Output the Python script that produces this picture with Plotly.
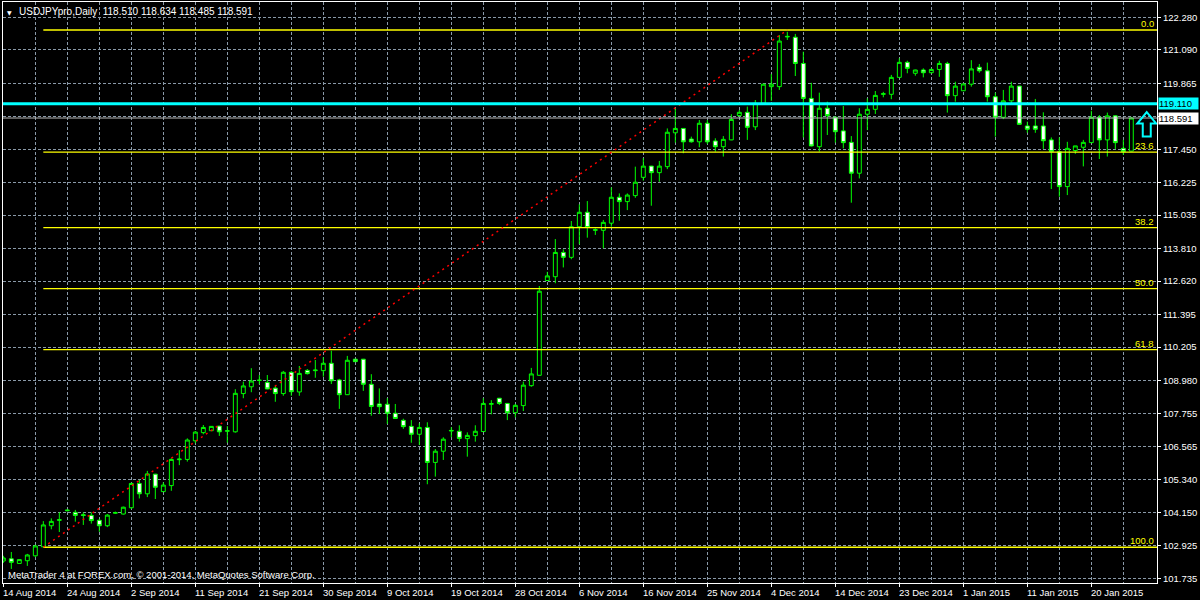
import pandas as pd
import plotly.graph_objects as go

# ---------------- data ----------------
SYMBOL_TITLE = "USDJPYpro,Daily"
LAST_OHLC = ["118.510", "118.634", "118.485", "118.591"]
COPYRIGHT = "MetaTrader 4 at FOREX.com, © 2001-2014, MetaQuotes Software Corp."

FIRST_DATE = "2014-08-14"
LAST_DATE = "2015-01-26"

OPEN = [
    102.37, 102.45, 102.28, 102.38, 102.56, 102.89, 103.66, 103.86, 104.21, 104.15,
    104.06, 104.04, 103.86, 103.66, 104.12, 104.09, 104.32, 105.21, 104.83, 105.55,
    104.91, 105.13, 106.08, 106.09, 106.77, 107.07, 107.14, 107.31, 107.12, 107.10,
    108.50, 108.75, 108.98, 108.91, 108.70, 108.50, 109.28, 108.56, 109.35, 109.34,
    109.34, 109.61, 109.00, 108.46, 109.76, 109.76, 108.84, 108.12, 108.11, 107.78,
    107.52, 107.30, 107.01, 107.26, 105.98, 106.39, 107.13, 107.12, 106.85, 106.96,
    107.11, 108.11, 108.33, 108.14, 107.80, 108.06, 108.79, 109.17, 112.64, 112.78,
    113.67, 113.49, 114.61, 115.14, 114.48, 114.48, 114.74, 115.69, 115.53, 115.75,
    116.42, 116.83, 116.59, 116.81, 118.05, 118.21, 117.82, 117.72, 118.40, 117.75,
    117.54, 117.79, 118.68, 118.80, 118.27, 119.13, 119.74, 119.74, 121.56, 121.55,
    120.59, 119.31, 117.54, 118.95, 118.62, 118.12, 117.70, 116.57, 118.73, 118.91,
    119.46, 119.46, 120.08, 120.63, 120.23, 120.35, 120.25, 120.37, 120.59, 119.41,
    119.59, 119.83, 120.45, 120.32, 119.37, 118.62, 119.22, 119.76, 118.30, 118.30,
    118.30, 117.79, 117.36, 116.08, 117.40, 117.52, 117.69, 118.62, 117.79, 118.67,
    117.48, 117.38,
]
HIGH = [
    102.56, 102.70, 102.43, 102.63, 102.96, 103.83, 103.93, 104.15, 104.25, 104.24,
    104.15, 104.15, 103.91, 104.09, 104.18, 104.36, 105.24, 105.34, 105.67, 105.56,
    105.25, 106.13, 106.43, 106.86, 107.13, 107.35, 107.31, 107.32, 107.31, 108.66,
    108.94, 109.43, 109.18, 109.18, 108.79, 109.33, 109.33, 109.51, 109.40, 109.73,
    109.83, 110.07, 109.04, 109.88, 109.77, 109.77, 109.21, 108.69, 108.33, 108.12,
    107.58, 107.53, 107.41, 107.45, 106.47, 106.90, 107.27, 107.34, 107.08, 107.34,
    108.33, 108.26, 108.34, 108.15, 108.12, 108.94, 109.44, 112.44, 112.96, 114.16,
    113.78, 114.82, 115.43, 115.55, 114.55, 114.86, 116.05, 115.83, 115.83, 116.81,
    117.12, 116.84, 117.02, 118.21, 118.95, 118.22, 117.91, 118.52, 118.52, 117.85,
    117.93, 118.73, 118.88, 119.01, 119.25, 119.84, 120.20, 121.63, 121.75, 121.67,
    121.02, 119.88, 119.52, 119.19, 118.64, 119.03, 117.93, 118.95, 119.31, 119.58,
    119.55, 120.17, 120.78, 120.69, 120.36, 120.41, 120.41, 120.69, 120.65, 119.92,
    119.85, 120.71, 120.57, 120.62, 119.52, 119.62, 119.92, 119.77, 118.46, 119.29,
    118.80, 117.88, 117.88, 117.72, 117.57, 117.79, 118.86, 118.70, 118.79, 118.70,
    117.79, 118.634,
]
LOW = [
    102.30, 102.08, 102.27, 102.19, 102.51, 102.87, 103.53, 103.43, 104.19, 103.81,
    103.69, 103.74, 103.44, 103.61, 104.09, 104.07, 104.28, 104.66, 104.71, 104.64,
    104.90, 104.94, 105.88, 106.01, 106.68, 107.01, 107.13, 106.95, 106.70, 107.07,
    108.33, 108.55, 108.84, 108.66, 108.20, 108.42, 108.42, 108.42, 109.20, 109.08,
    109.12, 108.85, 107.94, 108.45, 109.66, 108.60, 107.69, 107.75, 107.39, 107.57,
    107.21, 106.70, 106.62, 105.18, 105.46, 106.07, 106.90, 106.74, 106.19, 106.74,
    107.10, 107.74, 108.08, 107.53, 107.63, 107.86, 108.75, 109.16, 112.63, 112.54,
    113.12, 113.42, 113.97, 114.21, 114.31, 113.82, 114.61, 114.83, 115.22, 115.67,
    116.30, 115.38, 116.26, 116.72, 117.69, 117.30, 117.69, 117.52, 117.64, 117.36,
    117.18, 117.78, 118.64, 117.79, 118.15, 119.12, 119.22, 119.62, 121.45, 120.13,
    117.88, 117.55, 117.36, 117.97, 117.69, 117.48, 115.49, 116.38, 118.15, 118.74,
    119.35, 119.28, 120.07, 120.23, 120.14, 120.08, 120.23, 120.10, 118.79, 119.19,
    119.58, 119.74, 120.25, 119.19, 117.91, 118.55, 119.13, 118.35, 118.05, 118.05,
    117.46, 115.99, 115.71, 115.77, 117.28, 116.82, 117.68, 117.09, 117.18, 117.45,
    117.24, 117.37,
]
CLOSE = [
    102.48, 102.32, 102.42, 102.59, 102.92, 103.69, 103.82, 103.88, 104.23, 104.04,
    104.04, 103.85, 103.66, 104.05, 104.14, 104.34, 105.21, 104.83, 105.56, 105.07,
    105.15, 106.09, 106.10, 106.80, 107.09, 107.26, 107.30, 107.10, 107.14, 108.51,
    108.78, 108.96, 108.99, 108.67, 108.50, 109.28, 108.57, 109.24, 109.23, 109.36,
    109.61, 108.97, 108.46, 109.72, 109.67, 108.84, 108.03, 108.02, 107.78, 107.59,
    107.29, 107.01, 107.26, 105.98, 106.39, 106.83, 107.15, 106.86, 106.97, 107.12,
    108.14, 108.13, 108.14, 107.80, 108.07, 108.81, 109.22, 112.25, 112.81, 113.67,
    113.49, 114.61, 115.14, 114.58, 114.50, 114.77, 115.69, 115.53, 115.77, 116.24,
    116.83, 116.59, 116.83, 118.07, 118.21, 117.72, 117.72, 118.40, 117.72, 117.54,
    117.81, 118.54, 118.80, 118.25, 119.13, 119.83, 119.83, 121.41, 121.58, 120.59,
    119.31, 117.57, 118.95, 118.68, 118.09, 117.69, 116.57, 118.73, 118.91, 119.42,
    119.48, 120.08, 120.63, 120.41, 120.35, 120.25, 120.37, 120.59, 119.41, 119.76,
    119.84, 120.39, 120.32, 119.37, 118.62, 119.22, 119.76, 118.36, 118.18, 118.18,
    117.76, 117.36, 116.08, 117.48, 117.57, 117.70, 118.62, 117.79, 118.67, 117.69,
    117.36, 118.591,
]

TICK_DATES = [
    "2014-08-14", "2014-08-24", "2014-09-02", "2014-09-11", "2014-09-21", "2014-09-30",
    "2014-10-09", "2014-10-19", "2014-10-28", "2014-11-06", "2014-11-16", "2014-11-25",
    "2014-12-04", "2014-12-14", "2014-12-23", "2015-01-01", "2015-01-11", "2015-01-20",
]
PRICE_TICKS = [122.280, 121.090, 119.865, 118.655, 117.450, 116.225, 115.035, 113.810,
               112.620, 111.395, 110.205, 108.980, 107.755, 106.565, 105.340, 104.150,
               102.925, 101.735]
HIDDEN_TICKS = [118.655]

FIB_HIGH = 121.815
FIB_LOW = 102.873
FIB_LEVELS = [0.0, 23.6, 38.2, 50.0, 61.8, 100.0]
FIB_START_DATE = "2014-08-20"
FIB_END_DATE = "2014-12-07"

HLINE_PRICE = 119.110
BID_PRICE = 118.591
ARROW_BAR = 142.93
ARROW_PRICE = 118.81

# ---------------- build ----------------
dates = [d for d in pd.date_range(FIRST_DATE, LAST_DATE, freq="D") if d.weekday() != 5]
n = len(dates)
assert n == len(OPEN) == len(HIGH) == len(LOW) == len(CLOSE)
idx = list(range(n))
d2i = {d.strftime("%Y-%m-%d"): i for i, d in enumerate(dates)}
tick_idx = [d2i[t] for t in TICK_DATES]
minor_idx = [t + 4 for t in tick_idx]

GREEN = "#00FF00"
GRID = "#8A99A8"
FONT = "Liberation Sans, Arial, sans-serif"
FS = 9.5
X_RANGE = [-0.04, 144.21]
Y_RANGE = [101.564, 122.84]

fig = go.Figure(go.Candlestick(
    x=idx, open=OPEN, high=HIGH, low=LOW, close=CLOSE,
    increasing=dict(line=dict(color=GREEN, width=1), fillcolor="#000000"),
    decreasing=dict(line=dict(color=GREEN, width=1), fillcolor="#FFFFFF"),
    hoverinfo="skip", showlegend=False,
))

shapes = []
annotations = []
# fibonacci levels
fx0 = d2i[FIB_START_DATE]
fx1 = d2i[FIB_END_DATE]
for lvl in FIB_LEVELS:
    p = FIB_HIGH - lvl / 100.0 * (FIB_HIGH - FIB_LOW)
    shapes.append(dict(type="line", xref="x", yref="y", x0=fx0, x1=X_RANGE[1], y0=p, y1=p,
                       line=dict(color="#FFFF00", width=1.3), layer="above"))
    annotations.append(dict(xref="paper", yref="y", x=1, y=p, xanchor="right", yanchor="bottom",
                            xshift=-1, yshift=-1, text=f"{lvl:.1f}", showarrow=False,
                            font=dict(color="#FFFF00", size=FS, family=FONT)))
# trend line of fibo
shapes.append(dict(type="line", xref="x", yref="y", x0=fx0, y0=FIB_LOW, x1=fx1, y1=FIB_HIGH,
                   line=dict(color="#FF0000", width=1.5, dash="2px,4px"), layer="above"))
# bid line
shapes.append(dict(type="line", xref="x", yref="y", x0=X_RANGE[0], x1=X_RANGE[1],
                   y0=BID_PRICE, y1=BID_PRICE, line=dict(color="#B8B8B8", width=1), layer="above"))
# cyan horizontal line
shapes.append(dict(type="line", xref="x", yref="y", x0=X_RANGE[0], x1=X_RANGE[1],
                   y0=HLINE_PRICE, y1=HLINE_PRICE, line=dict(color="#00FFFF", width=3), layer="above"))
# up arrow object (pixel-sized, anchored at time/price)
shapes.append(dict(type="path", xref="x", yref="y", xsizemode="pixel", ysizemode="pixel",
                   xanchor=ARROW_BAR, yanchor=ARROW_PRICE,
                   path="M0,0 L9.5,-11.5 L4,-11.5 L4,-24.5 L-4,-24.5 L-4,-11.5 L-9.5,-11.5 Z",
                   line=dict(color="#00FFFF", width=2), fillcolor="rgba(0,0,0,0)", layer="above"))

# date labels (left aligned at tick)
for t, ti in zip(TICK_DATES, tick_idx):
    d = pd.Timestamp(t)
    annotations.append(dict(xref="x", yref="paper", x=ti, y=0, xanchor="left", yanchor="top",
                            xshift=-2, yshift=-2, text=f"{d.day} {d.strftime('%b %Y')}",
                            showarrow=False, font=dict(color="white", size=FS, family=FONT)))

# price boxes
annotations.append(dict(xref="paper", yref="y", x=1, y=HLINE_PRICE, xanchor="left", yanchor="middle",
                        xshift=1, text=f"{HLINE_PRICE:.3f}", showarrow=False, bgcolor="#00FFFF",
                        width=39, align="left", borderpad=0,
                        font=dict(color="black", size=FS, family=FONT)))
annotations.append(dict(xref="paper", yref="y", x=1, y=BID_PRICE, xanchor="left", yanchor="middle",
                        xshift=1, text=f"{BID_PRICE:.3f}", showarrow=False, bgcolor="#FFFFFF",
                        width=39, align="left", borderpad=0,
                        font=dict(color="black", size=FS, family=FONT)))
# title
annotations.append(dict(xref="paper", yref="paper", x=0, y=1, xanchor="left", yanchor="top",
                        xshift=2, yshift=-5, text="▼", showarrow=False,
                        font=dict(color="white", size=6, family="DejaVu Sans")))
annotations.append(dict(xref="paper", yref="paper", x=0, y=1, xanchor="left", yanchor="top",
                        xshift=14, yshift=-2,
                        text=SYMBOL_TITLE + "\u00a0\u00a0" + " ".join(LAST_OHLC), showarrow=False,
                        font=dict(color="white", size=10, family=FONT)))
annotations.append(dict(xref="paper", yref="paper", x=0, y=0, xanchor="left", yanchor="bottom",
                        xshift=3, yshift=1, text=COPYRIGHT, showarrow=False,
                        font=dict(color="white", size=FS, family=FONT)))

ticktext = ["" if v in HIDDEN_TICKS else f"{v:.3f}" for v in PRICE_TICKS]

fig.update_layout(
    width=1200, height=600,
    margin=dict(l=3, r=43, t=2, b=17),
    paper_bgcolor="black", plot_bgcolor="black",
    showlegend=False, hovermode=False,
    font=dict(family=FONT, size=FS, color="white"),
    shapes=shapes, annotations=annotations,
    xaxis=dict(
        range=X_RANGE, rangeslider=dict(visible=False),
        tickmode="array", tickvals=tick_idx, showticklabels=False,
        ticks="outside", ticklen=3, tickcolor="white",
        showgrid=True, gridcolor=GRID, griddash="3px,2px", gridwidth=1,
        zeroline=False, showline=True, linecolor="white", linewidth=1, mirror=True,
        minor=dict(tickmode="array", tickvals=minor_idx, showgrid=True, gridcolor=GRID,
                   griddash="3px,2px", gridwidth=1, ticks=""),
    ),
    yaxis=dict(
        side="right", range=Y_RANGE,
        tickmode="array", tickvals=PRICE_TICKS, ticktext=ticktext,
        ticks="outside", ticklen=3, tickcolor="white",
        tickfont=dict(color="white", size=FS, family=FONT),
        showgrid=True, gridcolor=GRID, griddash="3px,2px", gridwidth=1,
        zeroline=False, showline=True, linecolor="white", linewidth=1, mirror=True,
    ),
)

fig.write_html("out.html", config={"displayModeBar": False},
               post_script="document.body.style.margin='0px';")
